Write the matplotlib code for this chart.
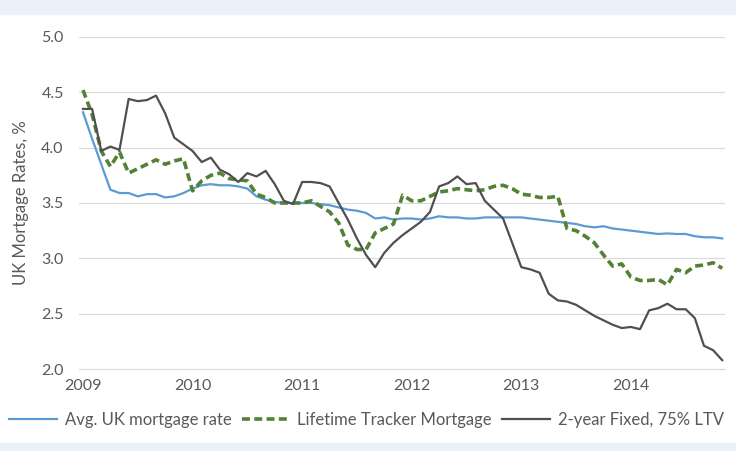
import numpy as np
import matplotlib.pyplot as plt
from matplotlib.patches import Rectangle

# monthly data, Jan 2009 .. Nov 2014
years = ['2009', '2010', '2011', '2012', '2013', '2014']

avg_rate = [4.32, 4.08, 3.85, 3.62, 3.59, 3.59, 3.56, 3.58, 3.58, 3.55, 3.56, 3.59,
            3.63, 3.66, 3.67, 3.66, 3.66, 3.65, 3.63, 3.56, 3.53, 3.51, 3.50, 3.50,
            3.50, 3.50, 3.49, 3.48, 3.46, 3.44, 3.43, 3.41, 3.36, 3.37, 3.35, 3.36,
            3.36, 3.35, 3.36, 3.38, 3.37, 3.37, 3.36, 3.36, 3.37, 3.37, 3.37, 3.37,
            3.37, 3.36, 3.35, 3.34, 3.33, 3.32, 3.31, 3.29, 3.28, 3.29, 3.27, 3.26,
            3.25, 3.24, 3.23, 3.22, 3.225, 3.22, 3.22, 3.20, 3.19, 3.19, 3.18]

tracker = [4.52, 4.30, 3.97, 3.83, 3.96, 3.77, 3.81, 3.85, 3.89, 3.85, 3.88, 3.90,
           3.61, 3.70, 3.75, 3.77, 3.72, 3.71, 3.70, 3.58, 3.55, 3.50, 3.50, 3.50,
           3.50, 3.52, 3.47, 3.42, 3.32, 3.12, 3.08, 3.08, 3.23, 3.27, 3.31, 3.57,
           3.52, 3.52, 3.56, 3.60, 3.61, 3.63, 3.62, 3.61, 3.62, 3.65, 3.66, 3.63,
           3.58, 3.57, 3.55, 3.55, 3.56, 3.27, 3.25, 3.20, 3.14, 3.03, 2.93, 2.95,
           2.83, 2.80, 2.80, 2.81, 2.76, 2.90, 2.87, 2.93, 2.94, 2.96, 2.91]

fixed2y = [4.35, 4.35, 3.97, 4.01, 3.98, 4.44, 4.42, 4.43, 4.47, 4.31, 4.09, 4.03,
           3.97, 3.87, 3.91, 3.80, 3.76, 3.69, 3.77, 3.74, 3.79, 3.67, 3.52, 3.49,
           3.69, 3.69, 3.68, 3.65, 3.50, 3.35, 3.18, 3.03, 2.92, 3.05, 3.14, 3.21,
           3.27, 3.33, 3.42, 3.65, 3.68, 3.74, 3.67, 3.68, 3.52, 3.44, 3.36, 3.14,
           2.92, 2.90, 2.87, 2.68, 2.62, 2.61, 2.58, 2.53, 2.48, 2.44, 2.40, 2.37,
           2.38, 2.36, 2.53, 2.55, 2.59, 2.54, 2.54, 2.46, 2.21, 2.17, 2.08]

plt.rcParams['font.family'] = ['Lato', 'DejaVu Sans']
txt = '#595959'

fig = plt.figure(figsize=(7.36, 4.51), dpi=100)
band = '#EBF1FA'
fig.patches.append(Rectangle((0, 1 - 14 / 451), 1, 14 / 451, transform=fig.transFigure,
                             color=band, zorder=0))
fig.patches.append(Rectangle((0, 0), 1, 8 / 451, transform=fig.transFigure,
                             color=band, zorder=0))

ax = fig.add_axes([0.1073, 0.1818, 0.8777, 0.7362])
x = np.arange(len(avg_rate))
ax.plot(x, avg_rate, color='#5B9BD5', lw=1.6, label='Avg. UK mortgage rate')
ax.plot(x, tracker, color='#538135', lw=2.6, ls=(0, (2.2, 1.2)), label='Lifetime Tracker Mortgage')
ax.plot(x, fixed2y, color='#505050', lw=1.6, label='2-year Fixed, 75% LTV')

ax.set_xlim(-0.44, 70.3)
ax.set_ylim(2.0, 5.0)
ax.set_yticks(np.arange(2.0, 5.01, 0.5))
ax.set_yticklabels(['%.1f' % v for v in np.arange(2.0, 5.01, 0.5)])
ax.set_xticks(np.arange(0, 61, 12))
ax.set_xticklabels(years)
ax.grid(axis='y', color='#D9D9D9', lw=0.8)
ax.set_axisbelow(True)
for s in ['top', 'right', 'left']:
    ax.spines[s].set_visible(False)
ax.spines['bottom'].set_color('#D9D9D9')
ax.tick_params(length=0, labelsize=11.5, colors=txt, pad=7)
ax.tick_params(axis='y', pad=11)
ax.set_ylabel('UK Mortgage Rates, %', fontsize=12, color=txt, labelpad=9)

ax.legend(loc='upper center', bbox_to_anchor=(0.445, -0.085), ncol=3, frameon=False,
          fontsize=12, labelcolor=txt, handlelength=2.9, handletextpad=0.45,
          columnspacing=0.6)

fig.savefig('out.png', dpi=100)
